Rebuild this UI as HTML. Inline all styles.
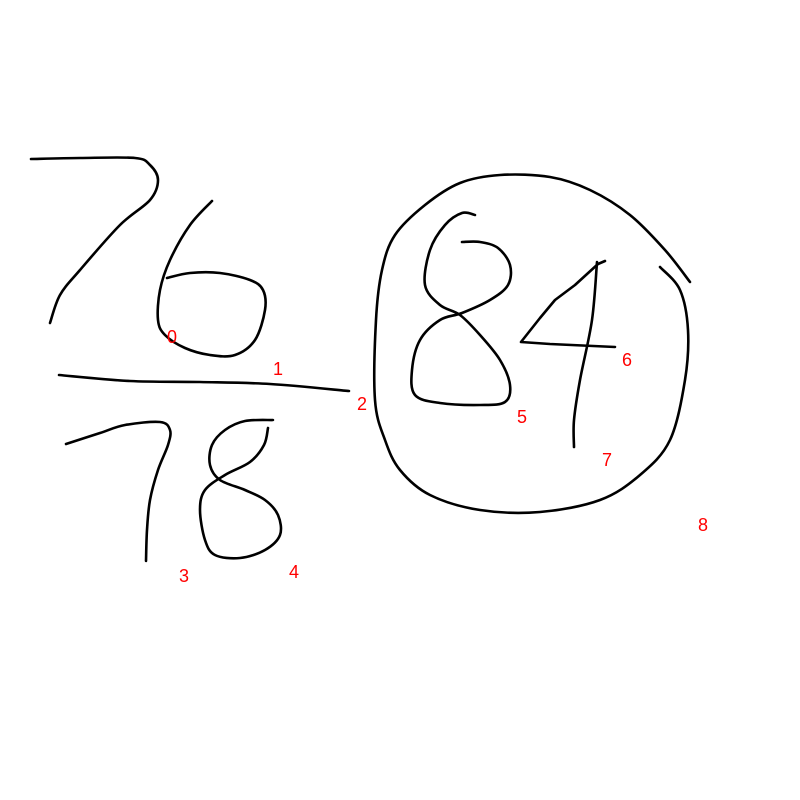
<!DOCTYPE html>
<html><head><meta charset="utf-8"><style>
html,body{margin:0;padding:0;background:#fff;}
svg{display:block;}
text{font-family:"Liberation Sans",sans-serif;font-size:18px;fill:#ff0000;}
path{fill:none;stroke:#000;stroke-width:2.6;stroke-linecap:round;stroke-linejoin:round;}
</style></head><body>
<svg id="c" width="800" height="800" viewBox="0 0 800 800"></svg>
<script>
const strokeNames = ["stroke-seven-top","stroke-six","fraction-line","stroke-seven-bottom","stroke-eight-bottom","circle","stroke-eight-big","stroke-four-arm","stroke-four-stem"];
const strokeStraight = [false,false,false,false,false,false,false,true,false];
const strokeX = [
 [31,80,135,150,158,150,120,80,60,50],
 [212,190,170,160,158,165,185,210,235,255,265,263,250,220,190,167],
 [59,130,200,270,349],
 [66,100,125,160,170,168,158,150,147,146],
 [268,264,250,225,205,200,205,215,240,265,280,278,265,245,220,210,212,225,245,273],
 [660,680,688,685,670,640,600,540,480,430,400,385,375,376,382,395,425,460,500,550,590,630,665,690],
 [475,462,445,430,425,440,460,480,500,510,505,480,440,415,412,420,440,462,490,508,510,498,480,462],
 [605,598,575,555,540,521,550,615],
 [597,592,580,574,574]
];
const strokeY = [
 [159,158,158,165,180,200,225,270,295,323],
 [201,225,260,290,320,335,348,355,355,340,310,290,280,273,273,278],
 [375,381,382,384,391],
 [444,433,425,422,430,445,470,500,530,561],
 [428,445,462,475,490,510,540,555,558,550,535,515,500,490,480,465,445,430,421,420],
 [267,290,330,380,440,475,500,512,510,495,470,440,400,320,270,235,205,183,175,177,190,215,250,282],
 [215,213,225,250,285,305,315,335,360,385,402,405,403,395,370,340,320,313,300,285,265,248,242,242],
 [261,264,285,300,318,342,344,347],
 [262,320,380,420,447]
];
const labelText = ["0","1","2","3","4","5","6","7","8"];
const labelX = [172,278,362,184,294,522,627,607,703];
const labelY = [338,370,405,577,573,418,361,461,526];

const svg = document.getElementById('c');
const NS = 'http://www.w3.org/2000/svg';
function smooth(xs, ys){
  let d = 'M'+xs[0]+' '+ys[0];
  for(let i=1;i<xs.length;i++){
    const x0=xs[i-1],y0=ys[i-1],x1=xs[i],y1=ys[i];
    const xp=xs[i-2]??x0, yp=ys[i-2]??y0, xn=xs[i+1]??x1, yn=ys[i+1]??y1;
    const c1x=x0+(x1-xp)/6, c1y=y0+(y1-yp)/6, c2x=x1-(xn-x0)/6, c2y=y1-(yn-y0)/6;
    d+=' C'+c1x+' '+c1y+' '+c2x+' '+c2y+' '+x1+' '+y1;
  }
  return d;
}
function straight(xs, ys){
  let d = 'M'+xs[0]+' '+ys[0];
  for(let i=1;i<xs.length;i++) d+=' L'+xs[i]+' '+ys[i];
  return d;
}
for(let i=0;i<strokeX.length;i++){
  const p = document.createElementNS(NS,'path');
  p.setAttribute('d', strokeStraight[i] ? straight(strokeX[i], strokeY[i]) : smooth(strokeX[i], strokeY[i]));
  
  
  svg.appendChild(p);
}
for(let i=0;i<labelText.length;i++){
  const t = document.createElementNS(NS,'text');
  t.setAttribute('x', labelX[i]);
  t.setAttribute('y', labelY[i]);
  t.setAttribute('text-anchor','middle');
  t.setAttribute('dominant-baseline','middle');
  t.textContent = labelText[i];
  
  
  svg.appendChild(t);
}
</script>
</body></html>
